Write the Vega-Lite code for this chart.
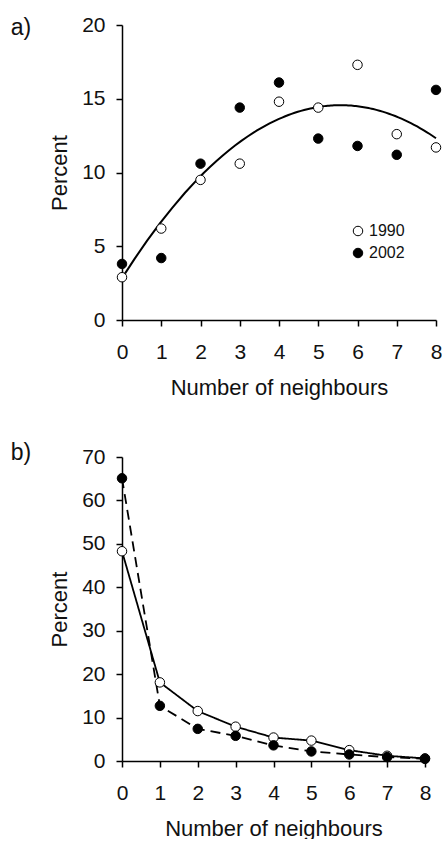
{
  "$schema": "https://vega.github.io/schema/vega-lite/v6.json",
  "background": "white",
  "padding": {"left": 10, "top": 14, "right": 0, "bottom": 0},
  "spacing": 43,
  "config": {
    "font": "Liberation Sans",
    "view": {"stroke": null},
    "axis": {
      "grid": false,
      "domainColor": "black",
      "domainWidth": 1.5,
      "tickColor": "black",
      "tickWidth": 1.5,
      "tickSize": 6,
      "labelFontSize": 21,
      "titleFontSize": 22,
      "titleFontWeight": "normal",
      "labelColor": "#111",
      "titleColor": "#111",
      "labelFlush": false,
      "labelOverlap": false,
      "labelBound": false
    },
    "axisX": {"labelPadding": 15, "titlePadding": 15},
    "axisY": {"labelPadding": 11, "titlePadding": 10},
    "title": {"fontSize": 23, "fontWeight": "normal", "anchor": "start", "frame": "bounds", "color": "#111", "offset": 0}
  },
  "datasets": {
    "a": [
      {"n": 0, "pct": 2.9, "year": "1990"},
      {"n": 1, "pct": 6.2, "year": "1990"},
      {"n": 2, "pct": 9.5, "year": "1990"},
      {"n": 3, "pct": 10.6, "year": "1990"},
      {"n": 4, "pct": 14.8, "year": "1990"},
      {"n": 5, "pct": 14.4, "year": "1990"},
      {"n": 6, "pct": 17.3, "year": "1990"},
      {"n": 7, "pct": 12.6, "year": "1990"},
      {"n": 8, "pct": 11.7, "year": "1990"},
      {"n": 0, "pct": 3.8, "year": "2002"},
      {"n": 1, "pct": 4.2, "year": "2002"},
      {"n": 2, "pct": 10.6, "year": "2002"},
      {"n": 3, "pct": 14.4, "year": "2002"},
      {"n": 4, "pct": 16.1, "year": "2002"},
      {"n": 5, "pct": 12.3, "year": "2002"},
      {"n": 6, "pct": 11.8, "year": "2002"},
      {"n": 7, "pct": 11.2, "year": "2002"},
      {"n": 8, "pct": 15.6, "year": "2002"}
    ],
    "b": [
      {"n": 0, "pct": 48.3, "year": "1990"},
      {"n": 1, "pct": 18.1, "year": "1990"},
      {"n": 2, "pct": 11.5, "year": "1990"},
      {"n": 3, "pct": 7.9, "year": "1990"},
      {"n": 4, "pct": 5.4, "year": "1990"},
      {"n": 5, "pct": 4.7, "year": "1990"},
      {"n": 6, "pct": 2.5, "year": "1990"},
      {"n": 7, "pct": 1.2, "year": "1990"},
      {"n": 8, "pct": 0.6, "year": "1990"},
      {"n": 0, "pct": 65.1, "year": "2002"},
      {"n": 1, "pct": 12.7, "year": "2002"},
      {"n": 2, "pct": 7.4, "year": "2002"},
      {"n": 3, "pct": 5.8, "year": "2002"},
      {"n": 4, "pct": 3.6, "year": "2002"},
      {"n": 5, "pct": 2.2, "year": "2002"},
      {"n": 6, "pct": 1.5, "year": "2002"},
      {"n": 7, "pct": 0.9, "year": "2002"},
      {"n": 8, "pct": 0.5, "year": "2002"}
    ]
  },
  "resolve": {"scale": {"fill": "independent", "strokeDash": "independent"}, "legend": {"fill": "independent"}},
  "vconcat": [
    {
      "width": 314,
      "height": 295,
      "title": {"text": "a)", "dx": -38, "dy": 30},
      "encoding": {
        "x": {"field": "n", "type": "quantitative", "scale": {"domain": [0, 8], "nice": false}, "axis": {"values": [0,1,2,3,4,5,6,7,8], "tickCount": 9, "labelOverlap": false, "labelFlush": false, "title": "Number of neighbours"}},
        "y": {"field": "pct", "type": "quantitative", "scale": {"domain": [0, 20], "nice": false}, "axis": {"values": [0,5,10,15,20], "labelOverlap": false, "labelFlush": false, "title": "Percent"}}
      },
      "layer": [
        {
          "data": {"name": "a"},
          "transform": [{"regression": "pct", "on": "n", "method": "poly", "order": 2, "extent": [0, 8]}],
          "mark": {"type": "line", "color": "black", "strokeWidth": 2}
        },
        {
          "data": {"name": "a"},
          "mark": {"type": "point", "shape": "circle", "filled": true, "stroke": "black", "strokeWidth": 1, "size": 90, "opacity": 1},
          "encoding": {
            "fill": {
              "field": "year", "type": "nominal",
              "scale": {"domain": ["1990", "2002"], "range": ["white", "black"]},
              "legend": {
                "orient": "none", "legendX": 228, "legendY": 198, "title": null,
                "symbolType": "circle", "symbolSize": 90, "symbolStrokeColor": "black", "symbolStrokeWidth": 1,
                "labelFontSize": 16, "labelOffset": 3, "rowPadding": 6, "padding": 0, "labelColor": "#111"
              }
            }
          }
        }
      ]
    },
    {
      "width": 303,
      "height": 304,
      "title": {"text": "b)", "dx": -38, "dy": 22.5},
      "data": {"name": "b"},
      "encoding": {
        "x": {"field": "n", "type": "quantitative", "scale": {"domain": [0, 8], "nice": false}, "axis": {"values": [0,1,2,3,4,5,6,7,8], "tickCount": 9, "labelOverlap": false, "labelFlush": false, "title": "Number of neighbours"}},
        "y": {"field": "pct", "type": "quantitative", "scale": {"domain": [0, 70], "nice": false}, "axis": {"values": [0,10,20,30,40,50,60,70], "labelOverlap": false, "labelFlush": false, "title": "Percent"}}
      },
      "layer": [
        {
          "mark": {"type": "line", "color": "black", "strokeWidth": 1.8},
          "encoding": {
            "strokeDash": {"field": "year", "type": "nominal", "scale": {"domain": ["1990", "2002"], "range": [[1, 0], [10, 6]]}, "legend": null}
          }
        },
        {
          "mark": {"type": "point", "shape": "circle", "filled": true, "stroke": "black", "strokeWidth": 1, "size": 90, "opacity": 1},
          "encoding": {
            "fill": {"field": "year", "type": "nominal", "scale": {"domain": ["1990", "2002"], "range": ["white", "black"]}, "legend": null}
          }
        }
      ]
    }
  ]
}
